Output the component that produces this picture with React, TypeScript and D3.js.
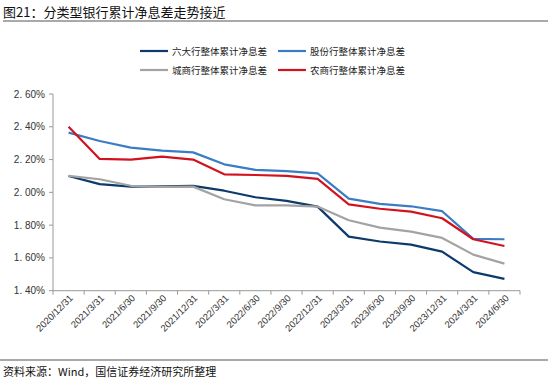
import React from "react";
import * as d3 from "d3";

const categories = [
  "2020/12/31", "2021/3/31", "2021/6/30", "2021/9/30", "2021/12/31",
  "2022/3/31", "2022/6/30", "2022/9/30", "2022/12/31", "2023/3/31",
  "2023/6/30", "2023/9/30", "2023/12/31", "2024/3/31", "2024/6/30",
];

const seriesNames = ["六大行整体累计净息差", "股份行整体累计净息差", "城商行整体累计净息差", "农商行整体累计净息差"];

const bigSix = [2.10, 2.05, 2.035, 2.037, 2.04, 2.01, 1.97, 1.948, 1.913, 1.73, 1.70, 1.681, 1.638, 1.513, 1.472];
const jointStock = [2.364, 2.313, 2.273, 2.254, 2.244, 2.171, 2.137, 2.13, 2.116, 1.962, 1.93, 1.915, 1.885, 1.716, 1.714];
const cityCommercial = [2.10, 2.08, 2.04, 2.033, 2.035, 1.958, 1.921, 1.921, 1.913, 1.83, 1.785, 1.76, 1.722, 1.62, 1.565];
const ruralCommercial = [2.40, 2.204, 2.20, 2.218, 2.20, 2.11, 2.106, 2.10, 2.082, 1.927, 1.90, 1.882, 1.842, 1.714, 1.673];

const yTicks = [1.4, 1.6, 1.8, 2.0, 2.2, 2.4, 2.6];

const colors = ["#0b3a6b", "#3b7dc4", "#a3a3a3", "#d3121f"];

export default function App() {
  const W = 550, H = 382;
  const left = 53, right = 520, top = 94, bottom = 290.7;
  const x = d3.scaleBand<string>().domain(categories).range([left, right]);
  const y = d3.scaleLinear().domain([1.4, 2.6]).range([bottom, top]);
  const cx = (c: string) => (x(c) as number) + x.bandwidth() / 2;
  const data = [bigSix, jointStock, cityCommercial, ruralCommercial];
  const line = d3.line<number>().x((_, i) => cx(categories[i])).y((v) => y(v));
  const font = "Arial, 'Liberation Sans', 'Noto Sans CJK SC', sans-serif";
  const cjk = "'Noto Sans CJK SC', 'Noto Sans', sans-serif";
  const legendPos = [
    { x: 140, y: 51 },
    { x: 278, y: 51 },
    { x: 140, y: 70 },
    { x: 278, y: 70 },
  ];
  const boundaries = categories.map((c) => x(c) as number).concat([right]);
  return (
    <svg width={W} height={H} style={{ position: "absolute", left: 0, top: 0, background: "#fff" }}>
      <rect width={W} height={H} fill="#fff" />
      <text x={3} y={17} fontSize={13} fontFamily={cjk} fill="#111">图21：分类型银行累计净息差走势接近</text>
      <line x1={3} x2={548} y1={21} y2={21} stroke="#8c8c8c" strokeWidth={1.5} />

      {legendPos.map((p, i) => (
        <g key={i}>
          <line x1={p.x} x2={p.x + 28} y1={p.y} y2={p.y} stroke={colors[i]} strokeWidth={2.2} />
          <text x={p.x + 32} y={p.y + 3.5} fontSize={9.5} fontFamily={cjk} fill="#222">{seriesNames[i]}</text>
        </g>
      ))}

      <line x1={left} x2={left} y1={top} y2={bottom} stroke="#999" strokeWidth={1} />
      {yTicks.map((t) => (
        <g key={t}>
          <line x1={left - 4} x2={left} y1={y(t)} y2={y(t)} stroke="#999" />
          <text x={left - 8} y={y(t) + 3.5} fontSize={10} textAnchor="end" fontFamily={font} fill="#333">
            {t.toFixed(2).replace(".", ". ")}%
          </text>
        </g>
      ))}

      <line x1={left} x2={right} y1={bottom} y2={bottom} stroke="#999" strokeWidth={1} />
      {boundaries.map((b, i) => (
        <line key={i} x1={b} x2={b} y1={bottom} y2={bottom + 4} stroke="#999" />
      ))}
      {categories.map((c) => (
        <text
          key={c}
          transform={`translate(${cx(c) + 5},${bottom + 8}) rotate(-45)`}
          fontSize={9.5}
          textAnchor="end"
          fontFamily={font}
          fill="#333"
        >
          {c}
        </text>
      ))}

      {data.map((d, i) => (
        <path key={i} d={line(d) as string} fill="none" stroke={colors[i]} strokeWidth={2.2} strokeLinejoin="round" />
      ))}

      <line x1={0} x2={548} y1={360} y2={360} stroke="#8c8c8c" strokeWidth={1.5} />
      <text x={3} y={376} fontSize={11} fontFamily={cjk} fill="#111">资料来源：Wind，国信证券经济研究所整理</text>
    </svg>
  );
}
